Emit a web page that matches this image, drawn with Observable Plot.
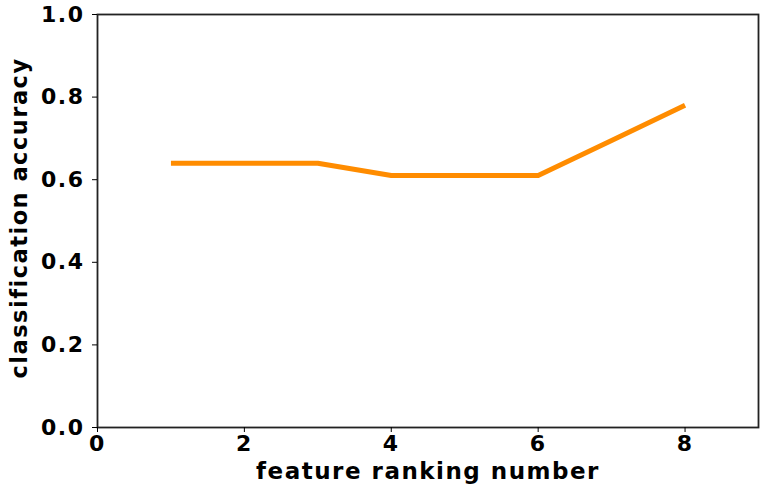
<!DOCTYPE html>
<html><head><meta charset="utf-8">
<script src="https://cdn.jsdelivr.net/npm/d3@7"></script>
<script src="https://cdn.jsdelivr.net/npm/@observablehq/plot@0.6"></script>
<style>
body{margin:0;background:#fff;}
svg{font-family:"DejaVu Sans",sans-serif;font-weight:bold;}
svg text{letter-spacing:1.5px;}
</style></head><body>
<div id="chart"></div>
<script>
const rank = [1, 2, 3, 4, 5, 6, 7, 8];
const accuracy = [0.64, 0.64, 0.64, 0.61, 0.61, 0.61, 0.695, 0.78];
const xTicks = [0, 2, 4, 6, 8];
const yTicks = [0.0, 0.2, 0.4, 0.6, 0.8, 1.0];

const data = rank.map((r, i) => ({rank: r, acc: accuracy[i]}));

const chart = Plot.plot({
  width: 765,
  height: 488,
  marginLeft: 97,
  marginTop: 14,
  marginRight: 7,
  marginBottom: 61,
  style: {background: "#fff", color: "#000", fontSize: "22px"},
  x: {domain: [0, 9]},
  y: {domain: [0, 1]},
  marks: [
    Plot.frame({stroke: "#222", strokeWidth: 1.8}),
    Plot.axisX({ticks: xTicks, tickSize: 5, tickPadding: 3, fontSize: 22, label: null, tickFormat: d3.format("d")}),
    Plot.axisY({ticks: yTicks, tickSize: 5, tickPadding: 8, fontSize: 22, label: null, tickFormat: d3.format(".1f")}),
    Plot.text(["feature ranking number"], {frameAnchor: "bottom", dy: 51, fontSize: 23, fontWeight: "bold", textAnchor: "middle", text: d => d}),
    Plot.text(["classification accuracy"], {frameAnchor: "left", dx: -78, dy: -3, rotate: -90, fontSize: 22.5, fontWeight: "bold", textAnchor: "middle", text: d => d}),
    Plot.line(data, {x: "rank", y: "acc", stroke: "#ff8c00", strokeWidth: 5, strokeLinecap: "butt"})
  ]
});
document.getElementById("chart").appendChild(chart);
</script>
</body></html>
